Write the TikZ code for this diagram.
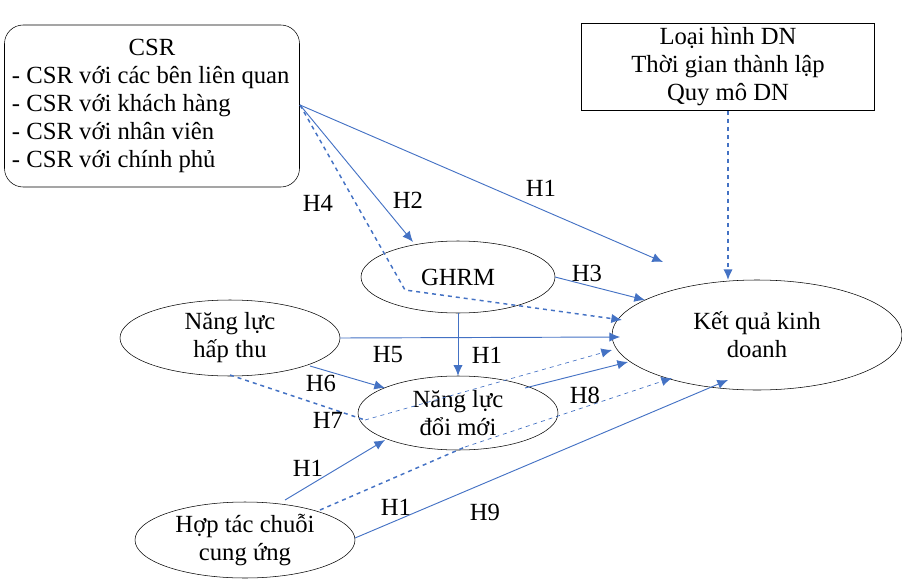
\documentclass[tikz,border=0pt]{standalone}
\usepackage{fontspec}
\setmainfont{Liberation Serif}
\definecolor{lineblue}{RGB}{68,114,196}
\tikzstyle{el} = [ellipse, draw=black, thin, align=center, inner sep=0pt]
\tikzstyle{hl} = [font=\fontsize{18.5}{21}\selectfont]
\tikzstyle{ar} = [->, >={Latex[length=8pt,width=7pt]}, draw=lineblue, line width=0.7pt]
\tikzstyle{da} = [ar, dashed, line width=1.1pt]
\usetikzlibrary{shapes.geometric,arrows.meta}
\begin{document}
\begin{tikzpicture}[x=0.75pt,y=-0.75pt,font=\fontsize{18.5}{21}\selectfont]
\useasboundingbox (0,0) rectangle (902,585);

\node[draw, rounded corners=14pt, minimum width=295*0.75pt, minimum height=162*0.75pt, align=left] (CSR) at (152,106)
{\makebox[210pt]{CSR}\\- CSR với các bên liên quan\\- CSR với khách hàng\\- CSR với nhân viên\\- CSR với chính phủ};
\node[draw, minimum width=293*0.75pt, minimum height=83*0.75pt, align=center] (Type) at (728,67)
{Loại hình DN\\Thời gian thành lập\\Quy mô DN};

\node[el, minimum width=194*0.75pt, minimum height=72*0.75pt] (GHRM) at (458,277) {GHRM};
\node[el, minimum width=220*0.75pt, minimum height=76*0.75pt] (Absorb) at (230,338) {Năng lực\\hấp thu};
\node[el, minimum width=200*0.75pt, minimum height=74*0.75pt] (Innov) at (458,413) {Năng lực\\đổi mới};
\node[el, minimum width=220*0.75pt, minimum height=76*0.75pt] (Supply) at (245,540) {Hợp tác chuỗi\\cung ứng};
\node[el, minimum width=290*0.75pt, minimum height=110*0.75pt] (Perf) at (757,335) {Kết quả kinh\\doanh};

\coordinate (c1) at (300,105);
\coordinate (bend) at (405,290);
\coordinate (mid7) at (365,420);
\coordinate (mid8) at (465,447);

\draw[ar] (c1) -- (663,262);
\draw[ar] (c1) -- (413,242);
\draw[da] (c1) -- (bend) -- (622,320);
\draw[ar] (555,277) -- (645,300);
\draw[ar] (340,338) -- (620,337);
\draw[ar] (GHRM.south) -- (Innov.north);
\draw[ar] (310,366) -- (385,388);
\draw[dashed, line width=1.1pt, lineblue] (230,375) -- (mid7);
\draw[ar, dashed, line width=0.5pt] (mid7) -- (612,350);
\draw[ar] (525,388) -- (628,362);
\draw[dashed, line width=1.1pt, lineblue] (320,510) -- (mid8);
\draw[ar, dashed, line width=0.5pt] (mid8) -- (672,378);
\draw[ar] (285,500) -- (385,440);
\draw[ar] (355,538) -- (728,380);
\draw[da] (Type.south) -- (728,280);

\node[hl] (h1a) at (541,188) {H1};
\node[hl] (h2) at (408,200) {H2};
\node[hl] (h4) at (318,203) {H4};
\node[hl] (h3) at (587,273) {H3};
\node[hl] (h5) at (388,355) {H5};
\node[hl] (h1b) at (487,355) {H1};
\node[hl] (h6) at (321,383) {H6};
\node[hl] (h7) at (328,420) {H7};
\node[hl] (h8) at (585,395) {H8};
\node[hl] (h1c) at (308,468) {H1};
\node[hl] (h1d) at (396,507) {H1};
\node[hl] (h9) at (485,512) {H9};
\end{tikzpicture}
\end{document}
